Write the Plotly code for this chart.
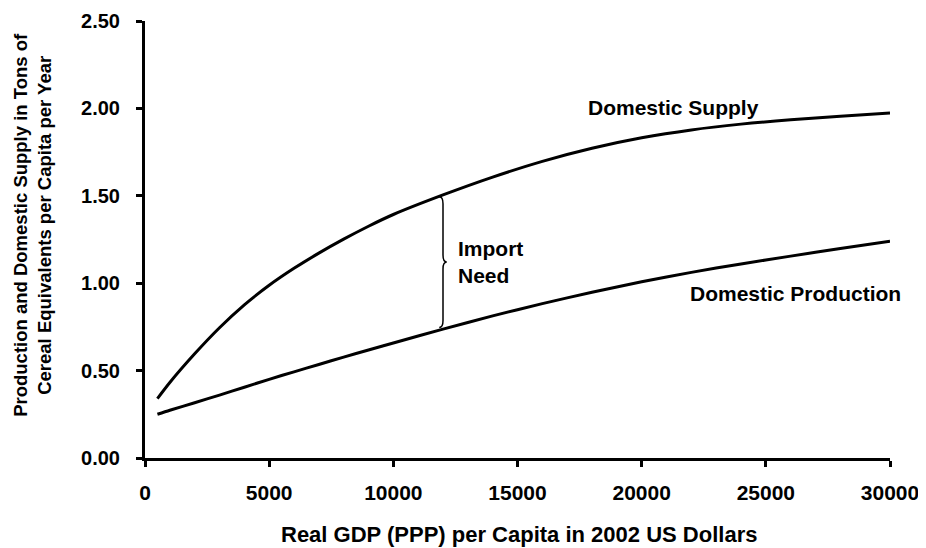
import numpy as np
import plotly.graph_objects as go

# ---- data ----
gdp = [500, 1000, 2000, 3000, 4000, 5000, 6000, 7000, 8000, 9000, 10000,
       12000, 14000, 16000, 18000, 20000, 22000, 24000, 26000, 28000, 30000]
domestic_supply = [0.34, 0.432, 0.596, 0.745, 0.876, 0.988, 1.085, 1.172, 1.252, 1.326, 1.393,
                   1.505, 1.607, 1.697, 1.772, 1.832, 1.877, 1.91, 1.935, 1.955, 1.973]
domestic_production = [0.25, 0.273, 0.316, 0.36, 0.405, 0.45, 0.493, 0.535, 0.577, 0.618, 0.658,
                       0.737, 0.813, 0.883, 0.948, 1.008, 1.062, 1.11, 1.155, 1.198, 1.24]

x_tick_vals = [0, 5000, 10000, 15000, 20000, 25000, 30000]
x_tick_text = ["0", "5000", "10000", "15000", "20000", "25000", "30000"]
y_tick_vals = [0.0, 0.5, 1.0, 1.5, 2.0, 2.5]
y_tick_text = ["0.00", "0.50", "1.00", "1.50", "2.00", "2.50"]

brace_x = 12000
x_title = "Real GDP (PPP) per Capita in 2002 US Dollars"
y_title = "Production and Domestic Supply in Tons of<br>Cereal Equivalents per Capita per Year"

FONT = "Liberation Sans, Arial, sans-serif"

fig = go.Figure()
fig.add_trace(go.Scatter(x=gdp, y=domestic_supply, mode="lines", name="Domestic Supply",
                         line=dict(color="black", width=3, shape="spline", smoothing=0.7)))
fig.add_trace(go.Scatter(x=gdp, y=domestic_production, mode="lines", name="Domestic Production",
                         line=dict(color="black", width=3, shape="spline", smoothing=0.7)))

# curly brace between the two curves at brace_x
y_top = float(np.interp(brace_x, gdp, domestic_supply)) - 0.01
y_bot = float(np.interp(brace_x, gdp, domestic_production)) + 0.01
y_mid = (y_top + y_bot) / 2
hook = 150   # horizontal size of brace curls (data units)
d = 0.04     # vertical size of curls
x0 = brace_x
path = (f"M {x0 - hook},{y_top} Q {x0},{y_top} {x0},{y_top - d} "
        f"L {x0},{y_mid + d} Q {x0},{y_mid} {x0 + hook},{y_mid} "
        f"Q {x0},{y_mid} {x0},{y_mid - d} "
        f"L {x0},{y_bot + d} Q {x0},{y_bot} {x0 - hook},{y_bot}")
fig.add_shape(type="path", path=path, xref="x", yref="y",
              line=dict(color="black", width=1.5))

bold = dict(family=FONT, color="black", weight="bold")

fig.add_annotation(x=21300, y=2.005, xref="x", yref="y", text="Domestic Supply",
                   showarrow=False, font=dict(size=21, **bold), xanchor="center", yanchor="middle")
fig.add_annotation(x=26180, y=0.94, xref="x", yref="y", text="Domestic Production",
                   showarrow=False, font=dict(size=21, **bold), xanchor="center", yanchor="middle")
fig.add_annotation(x=12520, y=1.12, xref="x", yref="y", text="Import<br>Need", align="left",
                   showarrow=False, font=dict(size=21, **bold), xanchor="left", yanchor="middle")

# axis titles
fig.add_annotation(x=0.502, y=-0.176, xref="paper", yref="paper", text=x_title,
                   showarrow=False, font=dict(size=22, **bold), xanchor="center", yanchor="middle")
fig.add_annotation(x=-0.152, y=0.533, xref="paper", yref="paper", text=y_title, textangle=-90,
                   showarrow=False, font=dict(size=18.5, **bold), xanchor="center", yanchor="middle")

fig.update_layout(
    width=918, height=540,
    margin=dict(l=137, r=36, t=13, b=90, autoexpand=False),
    paper_bgcolor="white", plot_bgcolor="white",
    showlegend=False,
)
fig.update_xaxes(range=[0, 30000], tickvals=x_tick_vals, ticktext=x_tick_text,
                 showgrid=False, zeroline=False, showline=True, linecolor="black", linewidth=3,
                 ticks="outside", ticklen=6, tickwidth=3, tickcolor="black",
                 tickfont=dict(size=21, **bold), ticklabelstandoff=8)
fig.update_yaxes(range=[0, 2.5], tickvals=y_tick_vals, ticktext=y_tick_text,
                 showgrid=False, zeroline=False, showline=True, linecolor="black", linewidth=3,
                 ticks="outside", ticklen=6, tickwidth=3, tickcolor="black",
                 tickfont=dict(size=20, **bold), ticklabelstandoff=12)

fig.write_html("out.html")
